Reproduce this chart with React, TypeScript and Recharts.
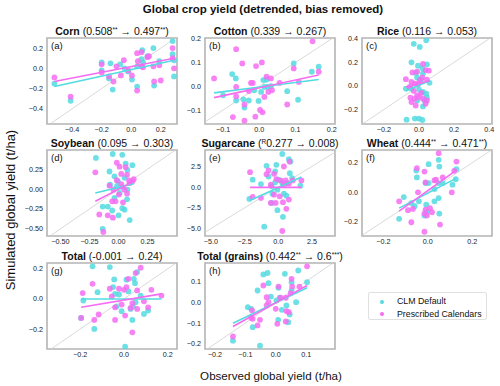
import React from "react";
import {
  ScatterChart,
  Scatter,
  XAxis,
  YAxis,
  ReferenceLine,
  ReferenceArea,
} from "recharts";

// each array: [observed, simulated] pairs in t/ha
const cornDefault = [
  [-0.52, -0.15], [-0.41, -0.32], [-0.2, 0.06], [-0.2, -0.02], [-0.14, 0.05],
  [-0.15, -0.1], [-0.125, -0.21], [-0.075, 0.04], [-0.02, -0.03], [0.005, -0.11],
  [0.04, -0.18], [0.04, 0.02], [0.07, 0.09], [0.075, 0.18], [0.08, 0.06],
  [0.11, 0.12], [0.15, 0.2], [0.19, 0.07], [0.155, -0.17], [0.28, 0.27],
  [0.28, 0.14], [0.29, -0.08], [0.29, 0.08], [-0.045, 0.0],
];
const cornPrescribed = [
  [-0.52, -0.09], [-0.41, -0.28], [-0.2, 0.04], [-0.2, -0.04], [-0.15, -0.08],
  [-0.12, -0.13], [-0.1, 0.02], [-0.07, -0.07], [-0.05, 0.08], [-0.02, -0.02],
  [0.005, -0.07], [0.04, 0.15], [0.045, 0.07], [0.07, 0.16], [0.07, 0.02],
  [0.08, 0.01], [0.11, 0.11], [0.12, 0.12], [0.15, 0.02], [0.155, -0.13],
  [0.19, 0.03], [0.2, -0.12], [0.28, 0.2], [0.28, 0.1], [0.29, 0.0], [0.04, -0.22],
];
const cornFitDefault = [[-0.52, -0.18], [0.29, 0.08]];
const cornFitPrescribed = [[-0.52, -0.13], [0.29, 0.1]];

const cottonDefault = [
  [-0.1, -0.038], [-0.075, 0.051], [-0.065, 0.033], [-0.064, -0.06], [-0.044, -0.055],
  [-0.041, -0.09], [-0.029, -0.06], [-0.002, -0.062], [0.005, -0.024], [0.011, 0.026],
  [0.02, 0.028], [0.023, -0.003], [0.032, 0.0], [0.014, -0.003], [0.077, -0.021],
  [0.095, 0.096], [0.107, -0.057], [0.145, 0.061], [0.164, 0.082], [-0.014, -0.017],
];
const cottonPrescribed = [
  [-0.125, 0.033], [-0.064, 0.156], [-0.047, 0.096], [-0.073, -0.13], [-0.064, -0.003],
  [-0.064, -0.043], [-0.041, -0.077], [-0.041, -0.145], [-0.029, -0.02], [-0.023, 0.014],
  [-0.018, 0.014], [-0.009, 0.085], [-0.011, -0.128], [0.002, -0.1], [0.007, 0.1],
  [0.009, -0.11], [0.02, 0.04], [0.025, -0.024], [0.032, 0.033], [0.035, -0.017],
  [0.056, 0.014], [0.077, -0.077], [0.095, 0.075], [0.109, 0.018], [0.147, 0.189],
  [0.164, 0.061], [0.014, -0.045],
];
const cottonFitDefault = [[-0.125, -0.028], [0.164, 0.028]];
const cottonFitPrescribed = [[-0.125, -0.048], [0.164, 0.047]];

const riceDefault = [
  [-0.03, 0.357], [0.004, 0.33], [0.041, 0.386], [-0.043, 0.2], [-0.006, 0.171],
  [0.045, 0.183], [0.019, 0.149], [-0.019, 0.111], [0.0225, 0.106], [-0.011, 0.071],
  [0.013, 0.054], [0.06, 0.026], [-0.075, -0.023], [-0.043, -0.023], [0.0, -0.031],
  [0.0225, -0.051], [0.045, -0.1], [0.032, -0.123], [-0.011, -0.123], [0.0225, -0.174],
  [-0.071, -0.286], [-0.024, -0.277], [0.0, -0.277], [0.019, -0.289], [0.041, -0.066],
];
const ricePrescribed = [
  [-0.0375, 0.114], [-0.011, 0.12], [0.0225, 0.186], [0.0375, 0.134], [0.056, 0.129],
  [-0.075, 0.057], [-0.043, 0.034], [-0.024, 0.02], [-0.006, 0.014], [0.004, 0.049],
  [0.019, 0.071], [0.045, 0.054], [-0.053, -0.009], [-0.03, -0.043], [0.013, -0.06],
  [-0.011, -0.08], [-0.049, -0.1], [-0.024, -0.109], [0.0, -0.094], [0.0225, -0.109],
  [0.045, -0.123], [-0.043, -0.137], [-0.019, -0.166], [0.0375, -0.151],
];
const riceFitDefault = [[-0.075, -0.043], [0.06, 0.043]];
const riceFitPrescribed = [[-0.075, -0.009], [0.06, 0.043]];

const soybeanDefault = [
  [-0.195, 0.39], [-0.05, 0.44], [0.032, 0.43], [-0.078, 0.22], [0.061, 0.32],
  [0.076, 0.24], [0.119, 0.3], [-0.035, 0.16], [-0.006, 0.096], [0.052, 0.14],
  [-0.073, 0.054], [-0.015, 0.033], [0.032, 0.025], [0.076, -0.008], [0.009, -0.05],
  [-0.035, -0.11], [0.073, -0.13], [-0.137, -0.22], [-0.093, -0.22], [0.032, -0.24],
  [0.052, -0.26], [-0.055, -0.27], [0.0, -0.33], [0.096, -0.39], [-0.137, -0.5],
];
const soybeanPrescribed = [
  [-0.2, 0.21], [-0.015, 0.33], [0.009, 0.28], [0.061, 0.275], [0.023, 0.19],
  [0.073, 0.18], [0.131, 0.125], [-0.015, 0.11], [-0.078, 0.042], [0.023, 0.062],
  [0.096, 0.075], [0.119, 0.096], [-0.044, -0.008], [0.052, -0.008], [0.003, -0.07],
  [0.073, -0.058], [-0.055, -0.154], [-0.026, -0.154], [0.038, -0.167], [-0.166, -0.32],
  [-0.093, -0.33], [-0.049, -0.36], [-0.131, -0.54], [0.09, 0.108],
];
const soybeanFitDefault = [[-0.2, -0.05], [0.131, 0.067]];
const soybeanFitPrescribed = [[-0.2, -0.154], [0.131, 0.096]];

const sugarcaneDefault = [
  [0.29, 3.98], [0.78, 3.35], [0.9, 3.07], [-0.88, 2.55], [-0.15, 2.67],
  [-0.24, 1.87], [0.85, 1.67], [-1.29, 0.36], [-0.73, 1.27], [0.0, 0.88],
  [-0.24, 0.56], [0.29, 0.48], [0.66, 0.48], [-0.49, 0.08], [-0.07, -0.32],
  [-1.9, 0.88], [-2.15, -1.43], [-0.44, -0.8], [0.41, -0.8], [0.59, -1.04],
  [-0.49, -1.91], [-0.07, -2.79], [0.34, -3.59], [-1.05, -4.78], [1.63, 0.16], [1.02, 1.08],
];
const sugarcanePrescribed = [
  [-2.1, 1.79], [-0.73, 1.99], [0.41, 2.47], [0.83, 3.07], [-0.88, 1.55],
  [-0.15, 0.96], [0.17, 0.8], [0.54, 0.8], [1.07, 0.8], [0.78, 0.4],
  [1.71, 0.8], [-0.56, 0.28], [0.41, 0.28], [-1.29, -1.31], [-0.32, -0.92],
  [0.1, -1.12], [0.78, -1.51], [-0.56, -1.91], [-0.2, -1.91], [0.34, -1.83],
  [0.59, -2.63], [0.29, -5.3], [-1.9, -1.2], [-0.32, 1.59],
];
const sugarcaneFitDefault = [[-2.1, -1.6], [1.71, 1.2]];
const sugarcaneFitPrescribed = [[-2.1, -0.04], [1.71, -0.04]];

const wheatDefault = [
  [0.004, 0.19], [0.049, 0.22], [-0.052, 0.147], [0.052, 0.174], [0.129, 0.156],
  [-0.049, 0.1], [-0.01, 0.061], [0.004, 0.061], [0.049, 0.061], [0.03, 0.02],
  [0.067, 0.061], [0.111, 0.05], [0.126, 0.088], [-0.108, -0.034], [-0.074, -0.075],
  [-0.04, -0.063], [-0.059, -0.097], [-0.007, -0.086], [0.03, -0.063], [0.049, -0.041],
  [-0.015, -0.16], [-0.004, -0.138], [0.052, -0.147], [-0.129, -0.183],
];
const wheatPrescribed = [
  [0.049, 0.265], [0.129, 0.208], [-0.049, 0.163], [-0.015, 0.14], [0.037, 0.084],
  [0.067, 0.1], [0.119, 0.145], [-0.01, 0.066], [0.03, 0.079], [-0.044, -0.002],
  [-0.129, -0.063], [-0.089, -0.124], [-0.067, -0.115], [-0.01, -0.12], [-0.004, -0.16],
  [-0.015, -0.147], [0.019, -0.138], [-0.074, -0.206], [-0.015, -0.271], [0.055, -0.222],
  [0.108, -0.002], [0.01, -0.11],
];
const wheatFitDefault = [[-0.129, -0.11], [0.129, 0.095]];
const wheatFitPrescribed = [[-0.129, -0.13], [0.129, 0.15]];

const totalDefault = [
  [-0.144, 0.216], [-0.065, 0.211], [-0.045, 0.129], [-0.05, 0.078], [-0.041, 0.033],
  [-0.023, 0.029], [0.011, 0.127], [0.02, 0.049], [0.045, 0.133], [0.05, 0.104],
  [0.06, 0.178], [-0.186, -0.011], [-0.121, 0.044], [-0.035, -0.051], [-0.011, -0.082],
  [0.03, -0.067], [0.041, -0.051], [0.053, -0.022], [0.076, 0.022], [0.091, -0.1],
  [0.11, -0.078], [0.038, -0.14], [-0.136, -0.2], [0.005, -0.318], [-0.196, -0.127],
];
const totalPrescribed = [
  [0.076, 0.207], [0.053, 0.171], [0.02, 0.133], [-0.144, 0.1], [-0.189, 0.038],
  [-0.065, 0.067], [-0.023, 0.067], [0.0, 0.06], [0.011, 0.078], [0.06, 0.056],
  [0.125, 0.06], [0.171, 0.022], [-0.056, 0.016], [-0.041, -0.056], [-0.011, -0.038],
  [0.038, -0.029], [0.06, -0.067], [0.03, -0.06], [0.091, -0.016], [0.11, -0.056],
  [-0.116, -0.104], [-0.136, -0.14], [0.005, -0.111], [-0.041, -0.14], [0.038, -0.222],
  [-0.196, -0.127],
];
const totalFitDefault = [[-0.196, -0.001], [0.171, -0.001]];
const totalFitPrescribed = [[-0.196, -0.056], [0.171, 0.033]];

const grainsDefault = [
  [-0.041, 0.133], [-0.027, 0.14], [-0.06, 0.056], [-0.024, 0.091], [0.009, 0.069],
  [0.002, 0.008], [0.013, 0.021], [0.03, 0.136], [0.052, 0.096], [0.074, 0.152],
  [0.067, 0.0], [0.103, 0.096], [-0.016, 0.027], [0.02, -0.037], [0.035, -0.016],
  [0.046, -0.059], [0.041, -0.096], [0.008, -0.085], [-0.092, -0.024], [-0.081, -0.032],
  [-0.076, -0.12], [-0.141, -0.185], [-0.052, -0.209], [0.052, 0.056],
];
const grainsPrescribed = [
  [0.103, 0.172], [0.052, 0.112], [0.009, 0.075], [-0.041, 0.08], [-0.03, 0.024],
  [0.016, 0.021], [0.033, 0.021], [0.054, 0.075], [0.078, 0.075], [0.049, 0.043],
  [-0.024, 0.0], [0.0, -0.032], [0.035, -0.043], [0.043, -0.048], [-0.078, -0.04],
  [-0.081, -0.075], [-0.076, -0.08], [-0.052, -0.085], [-0.06, -0.112], [0.005, -0.104],
  [0.033, -0.093], [-0.141, -0.165], [-0.03, -0.016],
];
const grainsFitDefault = [[-0.141, -0.101], [0.103, 0.069]];
const grainsFitPrescribed = [[-0.141, -0.117], [0.103, 0.08]];

const CYAN = "#52dbe0";
const MAGENTA = "#f56cf2";
const FONT = "'Liberation Sans', Arial, sans-serif";

const toPts = (arr: number[][]) => arr.map(([x, y]) => ({ x, y }));

type PanelDef = {
  name: string;
  pre?: string;
  before: string;
  beforeSig?: string;
  after: string;
  afterSig?: string;
  tag: string;
  xDomain: [number, number];
  yDomain: [number, number];
  ticks: number[];
  decimals: number;
  def: number[][];
  pres: number[][];
  fitDef: number[][];
  fitPres: number[][];
};

const panels: PanelDef[] = [
  { name: "Corn", before: "0.508", beforeSig: "**", after: "0.497", afterSig: "**", tag: "(a)",
    xDomain: [-0.57, 0.31], yDomain: [-0.55, 0.3], ticks: [-0.4, -0.2, 0, 0.2], decimals: 1,
    def: cornDefault, pres: cornPrescribed, fitDef: cornFitDefault, fitPres: cornFitPrescribed },
  { name: "Cotton", before: "0.339", after: "0.267", tag: "(b)",
    xDomain: [-0.15, 0.209], yDomain: [-0.159, 0.203], ticks: [-0.1, 0, 0.1, 0.2], decimals: 1,
    def: cottonDefault, pres: cottonPrescribed, fitDef: cottonFitDefault, fitPres: cottonFitPrescribed },
  { name: "Rice", before: "0.116", after: "0.053", tag: "(c)",
    xDomain: [-0.325, 0.416], yDomain: [-0.323, 0.406], ticks: [-0.2, 0, 0.2, 0.4], decimals: 1,
    def: riceDefault, pres: ricePrescribed, fitDef: riceFitDefault, fitPres: riceFitPrescribed },
  { name: "Soybean", before: "0.095", after: "0.303", tag: "(d)",
    xDomain: [-0.616, 0.503], yDomain: [-0.59, 0.49], ticks: [-0.5, -0.25, 0, 0.25], decimals: 2,
    def: soybeanDefault, pres: soybeanPrescribed, fitDef: soybeanFitDefault, fitPres: soybeanFitPrescribed },
  { name: "Sugarcane", pre: "R", before: "0.277", after: "0.008", tag: "(e)",
    xDomain: [-5.44, 4.2], yDomain: [-5.9, 4.46], ticks: [-5, -2.5, 0, 2.5], decimals: 1,
    def: sugarcaneDefault, pres: sugarcanePrescribed, fitDef: sugarcaneFitDefault, fitPres: sugarcaneFitPrescribed },
  { name: "Wheat", before: "0.444", beforeSig: "**", after: "0.471", afterSig: "**", tag: "(f)",
    xDomain: [-0.296, 0.289], yDomain: [-0.3, 0.287], ticks: [-0.2, 0, 0.2], decimals: 1,
    def: wheatDefault, pres: wheatPrescribed, fitDef: wheatFitDefault, fitPres: wheatFitPrescribed },
  { name: "Total", before: "-0.001", after: "0.24", tag: "(g)",
    xDomain: [-0.352, 0.242], yDomain: [-0.333, 0.238], ticks: [-0.2, 0, 0.2], decimals: 1,
    def: totalDefault, pres: totalPrescribed, fitDef: totalFitDefault, fitPres: totalFitPrescribed },
  { name: "Total (grains)", before: "0.442", beforeSig: "**", after: "0.6", afterSig: "***", tag: "(h)",
    xDomain: [-0.233, 0.195], yDomain: [-0.225, 0.188], ticks: [-0.2, -0.1, 0, 0.1], decimals: 1,
    def: grainsDefault, pres: grainsPrescribed, fitDef: grainsFitDefault, fitPres: grainsFitPrescribed },
];

const COL_LEFT = [47, 205, 362];
const ROW_TOP = [38, 150, 263];
const PW = 130;
const PH = 86;
const YAXIS_W = 30;
const XAXIS_H = 14;
const PAD = 6;

const Sup = ({ children }: { children: React.ReactNode }) => (
  <span style={{ fontSize: "0.62em", position: "relative", top: "-0.5em" }}>{children}</span>
);

const dot = (color: string) => (props: any) =>
  <circle cx={props.cx} cy={props.cy} r={2.9} fill={color} fillOpacity={0.85} />;

const Panel = ({ p, left, top }: { p: PanelDef; left: number; top: number }) => {
  const fmt = (v: number) => v.toFixed(p.decimals).replace("-", "\u2212");
  const lo = Math.min(p.xDomain[0], p.yDomain[0]);
  const hi = Math.max(p.xDomain[1], p.yDomain[1]);
  const tick = { fontSize: 7.2, fill: "#222", fontFamily: FONT };
  return (
    <>
      <div
        style={{
          position: "absolute", left: left + PW / 2 - 110, width: 220, top: top - 13,
          textAlign: "center", fontSize: 10.5, lineHeight: "12px", whiteSpace: "nowrap",
          fontFamily: FONT, color: "#111",
        }}>
        <b>{p.name}</b> ({p.pre && <Sup>{p.pre}</Sup>}{p.before}
        {p.beforeSig && <Sup>{p.beforeSig}</Sup>} {"\u2192"} {p.after}
        {p.afterSig && <Sup>{p.afterSig}</Sup>})
      </div>
      <div style={{ position: "absolute", left: left - YAXIS_W, top: top - PAD }}>
        <ScatterChart
          width={YAXIS_W + PW + PAD}
          height={PAD + PH + XAXIS_H}
          margin={{ top: PAD, right: PAD, bottom: 0, left: 0 }}>
          <XAxis
            type="number" dataKey="x" domain={p.xDomain} ticks={p.ticks}
            allowDataOverflow axisLine={false} tickLine={false} tickSize={0} tickMargin={3}
            height={XAXIS_H} tick={tick} tickFormatter={fmt} interval={0}
          />
          <YAxis
            type="number" dataKey="y" domain={p.yDomain} ticks={p.ticks}
            allowDataOverflow axisLine={false} tickLine={false} tickSize={0} tickMargin={4}
            width={YAXIS_W} tick={tick} tickFormatter={fmt} interval={0}
          />
          <ReferenceLine
            segment={[{ x: lo, y: lo }, { x: hi, y: hi }]}
            stroke="#cfcfcf" strokeWidth={0.8} ifOverflow="hidden"
          />
          <Scatter data={toPts(p.def)} shape={dot(CYAN)} isAnimationActive={false} />
          <Scatter data={toPts(p.pres)} shape={dot(MAGENTA)} isAnimationActive={false} />
          <Scatter data={toPts(p.fitDef)} line={{ stroke: CYAN, strokeWidth: 1.6 }}
            shape={() => <g />} isAnimationActive={false} />
          <Scatter data={toPts(p.fitPres)} line={{ stroke: MAGENTA, strokeWidth: 1.6 }}
            shape={() => <g />} isAnimationActive={false} />
          <ReferenceArea
            x1={p.xDomain[0]} x2={p.xDomain[1]} y1={p.yDomain[0]} y2={p.yDomain[1]}
            fill="none" stroke="#b4b4b4" strokeWidth={1.6} ifOverflow="visible"
          />
        </ScatterChart>
      </div>
      <div style={{ position: "absolute", left: left + 4, top: top + 2, fontSize: 9.5, fontFamily: FONT, color: "#111" }}>
        {p.tag}
      </div>
    </>
  );
};

export default function App() {
  return (
    <div style={{ position: "absolute", left: 0, top: 0, width: 500, height: 386, background: "#fff", fontFamily: FONT }}>
      <div style={{ position: "absolute", left: 263 - 150, width: 300, top: 2, textAlign: "center", fontSize: 11.5, fontWeight: "bold", lineHeight: "14px", color: "#111" }}>
        Global crop yield (detrended, bias removed)
      </div>
      {panels.map((p, i) => (
        <Panel key={p.name} p={p} left={COL_LEFT[i % 3]} top={ROW_TOP[Math.floor(i / 3)]} />
      ))}
      <div style={{ position: "absolute", left: 271 - 100, width: 200, top: 369, textAlign: "center", fontSize: 11.6, lineHeight: "14px", color: "#111" }}>
        Observed global yield (t/ha)
      </div>
      <div style={{ position: "absolute", left: 11 - 100, top: 210 - 8, width: 200, height: 16, textAlign: "center", fontSize: 13, lineHeight: "16px", transform: "rotate(-90deg)", color: "#111" }}>
        Simulated global yield (t/ha)
      </div>
      <div style={{ position: "absolute", left: 368, top: 292, width: 119, height: 28, border: "1px solid #e0e0e0", borderRadius: 2, boxSizing: "border-box", fontSize: 8.8, color: "#111" }}>
        {[["CLM Default", CYAN], ["Prescribed Calendars", MAGENTA]].map(([label, color], i) => (
          <div key={label} style={{ position: "absolute", left: 0, top: 2 + i * 12.5, height: 12, lineHeight: "12px", whiteSpace: "nowrap" }}>
            <span style={{ position: "absolute", left: 11, top: 4.5, width: 4, height: 4, borderRadius: 2, background: color }} />
            <span style={{ position: "absolute", left: 28 }}>{label}</span>
          </div>
        ))}
      </div>
    </div>
  );
}
